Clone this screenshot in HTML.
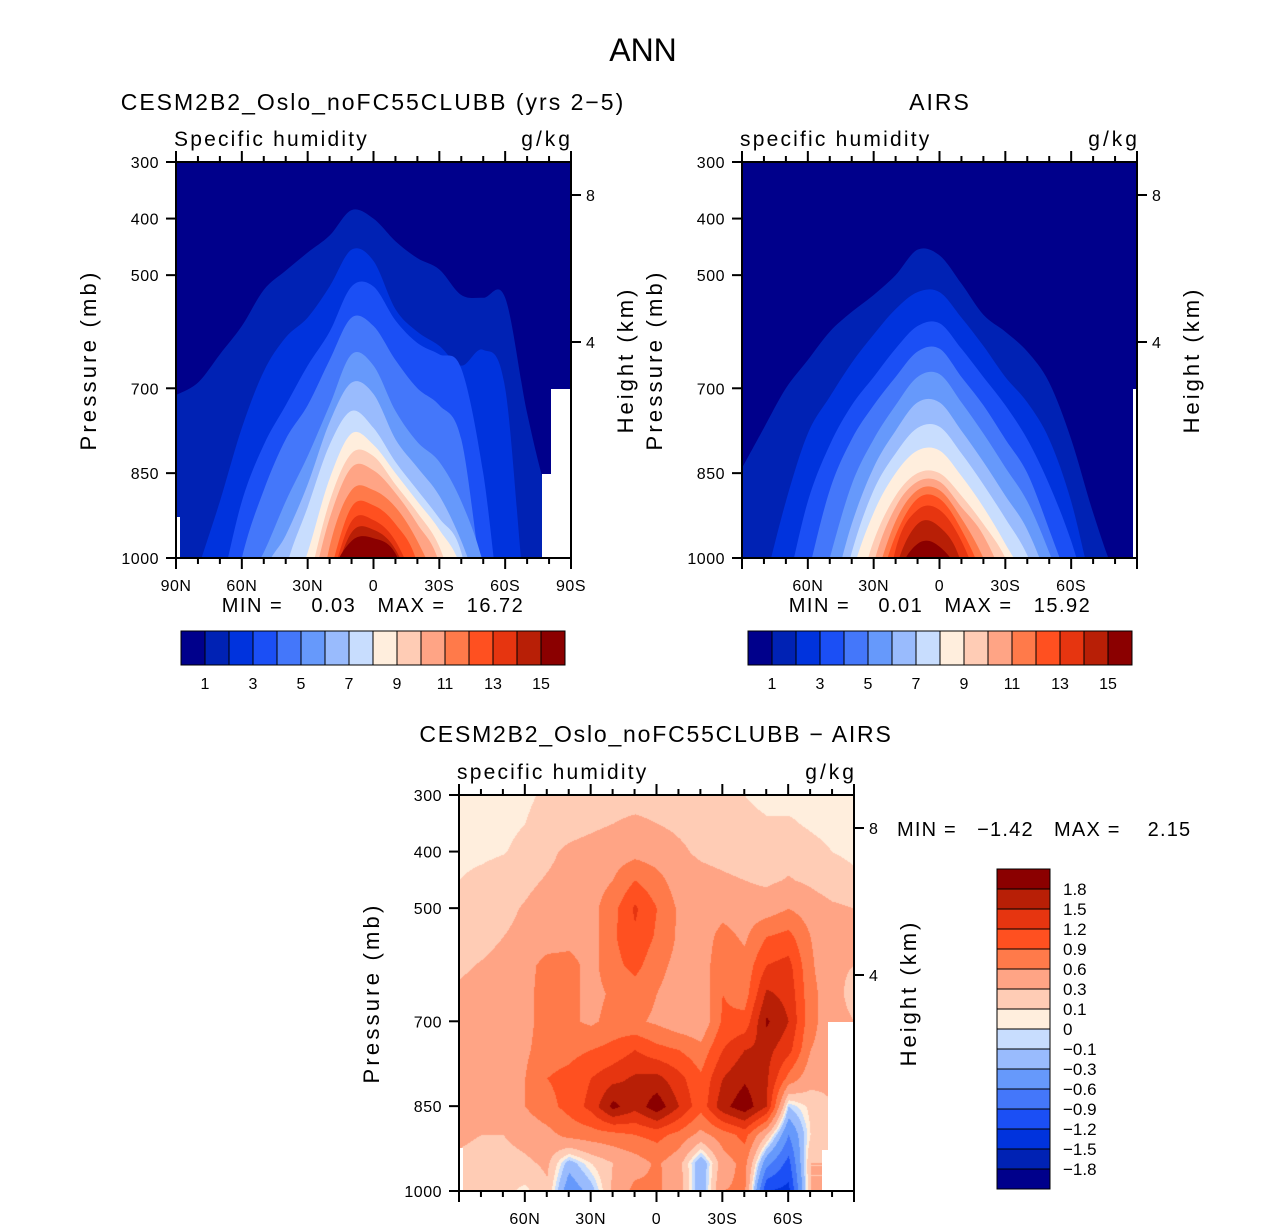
<!DOCTYPE html>
<html><head><meta charset="utf-8">
<style>
html,body{margin:0;padding:0;background:#fff;}
body{width:1285px;height:1230px;position:relative;overflow:hidden;font-family:"Liberation Sans",sans-serif;}
#diffCanvas{position:absolute;left:459px;top:795px;z-index:0;}
#chart{position:absolute;left:0;top:0;z-index:1;}
text{font-family:"Liberation Sans",sans-serif;fill:#000;}
</style></head>
<body>
<canvas id="diffCanvas" width="395" height="396"></canvas>
<svg id="chart" width="1285" height="1230" xmlns="http://www.w3.org/2000/svg">
<defs>
<clipPath id="clip1"><rect x="176" y="162" width="395" height="396"/></clipPath>
<clipPath id="clip2"><rect x="742" y="162" width="395" height="396"/></clipPath>
</defs>
<text x="643" y="61" font-size="32" text-anchor="middle">ANN</text>
<g id="p1"></g>
<g id="p2"></g>
<g id="p3"></g>
</svg>
<script>
// ---------- data ----------
const palette = ["#00008B","#0022B4","#0033DD","#1B4FF5","#4477FA","#6699FB","#99BBFD","#C8DDFE","#FFEEDD","#FFCCB5","#FFA485","#FF7A4A","#FF5020","#E63510","#B81F06","#8B0000"];
const lats = [90,80,70,60,50,40,30,20,10,0,-10,-20,-30,-40,-50,-60,-70,-80,-90];
const qLevels = [1,2,3,4,5,6,7,8,9,10,11,12,13,14,15];
const qLevelLabels = ["1","3","5","7","9","11","13","15"];
const pTicks = [300,400,500,700,850,1000];
const heightTicks = [8,4];
const latTicksTop = ["90N","60N","30N","0","30S","60S","90S"];
const latTickValsTop = [90,60,30,0,-30,-60,-90];
const latTicksInner = ["60N","30N","0","30S","60S"];
const latTickValsInner = [60,30,0,-30,-60];
// isoline pressure (mb) of each humidity level at each latitude, model
const modelL1 = [712,690,640,590,526,492,460,430,385,400,440,470,490,535,540,540,744,900,1000];
const modelL2 = [1150,1020,900,770,670,610,575,520,455,475,560,600,625,660,632,700,1100,1200,1200];
const modelL3 = [1200,1200,1060,900,800,730,660,600,520,520,580,620,640,665,850,1150,1200,1200,1200];
const modelL4 = [1200,1200,1200,1000,880,790,730,650,575,590,650,700,730,790,1050,1200,1200,1200,1200];
const modelL5 = [1200,1200,1200,1060,990,900,820,730,640,660,740,795,830,900,1010,1200,1200,1200,1200];
const modelL6 = [1200,1200,1200,1200,1030,960,870,760,690,710,790,840,890,970,1080,1200,1200,1200,1200];
const modelL7 = [1200,1200,1200,1200,1200,1020,910,800,740,770,830,880,930,990,1200,1200,1200,1200,1200];
const modelL8 = [1200,1200,1200,1200,1200,1100,990,860,780,800,850,900,950,1020,1200,1200,1200,1200,1200];
const modelL9 = [1200,1200,1200,1200,1200,1200,1050,900,815,820,870,920,980,1100,1200,1200,1200,1200,1200];
const modelL10 = [1200,1200,1200,1200,1200,1200,1080,930,840,845,885,940,1010,1200,1200,1200,1200,1200,1200];
const modelL11 = [1200,1200,1200,1200,1200,1200,1200,980,880,880,910,970,1060,1200,1200,1200,1200,1200,1200];
const modelL12 = [1200,1200,1200,1200,1200,1200,1200,1030,910,907,940,1010,1200,1200,1200,1200,1200,1200,1200];
const modelL13 = [1200,1200,1200,1200,1200,1200,1200,1050,935,933,970,1060,1200,1200,1200,1200,1200,1200,1200];
const modelL14 = [1200,1200,1200,1200,1200,1200,1200,1060,955,950,985,1080,1200,1200,1200,1200,1200,1200,1200];
const modelL15 = [1200,1200,1200,1200,1200,1200,1200,1040,970,965,992,1100,1200,1200,1200,1200,1200,1200,1200];
// AIRS
const airsL1 = [841,770,700,650,600,565,535,500,455,465,515,570,600,635,690,790,920,1030,1100];
const airsL2 = [1200,1050,900,780,715,655,605,560,530,530,575,625,680,725,790,900,1060,1200,1200];
const airsL3 = [1200,1200,1060,900,800,730,680,630,590,585,630,680,730,790,870,970,1100,1200,1200];
const airsL4 = [1200,1200,1200,1030,880,790,730,680,635,630,680,730,790,850,950,1060,1200,1200,1200];
const airsL5 = [1200,1200,1200,1150,1000,870,790,730,680,675,725,780,840,900,990,1100,1200,1200,1200];
const airsL6 = [1200,1200,1200,1200,1080,940,840,775,725,725,775,830,890,950,1050,1200,1200,1200,1200];
const airsL7 = [1200,1200,1200,1200,1150,990,880,815,770,768,815,870,930,995,1100,1200,1200,1200,1200];
const airsL8 = [1200,1200,1200,1200,1200,1030,920,850,810,810,855,910,975,1050,1200,1200,1200,1200,1200];
const airsL9 = [1200,1200,1200,1200,1200,1100,970,890,850,850,890,940,1000,1100,1200,1200,1200,1200,1200];
const airsL10 = [1200,1200,1200,1200,1200,1200,1010,910,865,865,910,960,1050,1200,1200,1200,1200,1200,1200];
const airsL11 = [1200,1200,1200,1200,1200,1200,1050,935,880,880,930,1000,1100,1200,1200,1200,1200,1200,1200];
const airsL12 = [1200,1200,1200,1200,1200,1200,1080,960,895,895,950,1040,1200,1200,1200,1200,1200,1200,1200];
const airsL13 = [1200,1200,1200,1200,1200,1200,1200,985,915,915,970,1070,1200,1200,1200,1200,1200,1200,1200];
const airsL14 = [1200,1200,1200,1200,1200,1200,1200,1020,940,945,1010,1200,1200,1200,1200,1200,1200,1200,1200];
const airsL15 = [1200,1200,1200,1200,1200,1200,1200,1040,975,980,1040,1200,1200,1200,1200,1200,1200,1200,1200];
// difference field (g/kg): rows = pressure, cols = lats
const diffPressures = [300,350,400,450,500,550,600,650,700,750,800,850,900,950,1000];
const diffRow300 = [0.05,0.05,0.05,0.08,0.12,0.2,0.2,0.2,0.2,0.2,0.2,0.2,0.2,0.1,0.05,0.05,0.05,0.05,0.05];
const diffRow350 = [0.05,0.05,0.06,0.1,0.15,0.2,0.25,0.3,0.35,0.3,0.25,0.2,0.15,0.15,0.12,0.12,0.08,0.05,0.05];
const diffRow400 = [0.05,0.06,0.09,0.15,0.25,0.35,0.4,0.45,0.5,0.45,0.35,0.25,0.2,0.15,0.15,0.2,0.15,0.1,0.08];
const diffRow450 = [0.1,0.15,0.2,0.25,0.32,0.38,0.45,0.6,0.9,0.7,0.45,0.4,0.35,0.3,0.25,0.32,0.25,0.15,0.12];
const diffRow500 = [0.15,0.2,0.25,0.32,0.4,0.45,0.5,0.8,1.25,0.9,0.55,0.45,0.5,0.45,0.45,0.6,0.45,0.35,0.3];
const diffRow550 = [0.15,0.2,0.3,0.35,0.45,0.5,0.45,0.85,1.15,0.85,0.55,0.45,0.7,0.55,0.9,1.0,0.6,0.4,0.3];
const diffRow600 = [0.25,0.32,0.4,0.5,0.7,0.7,0.5,0.8,1.0,0.7,0.5,0.45,0.8,0.7,1.2,1.3,0.65,0.35,0.3];
const diffRow650 = [0.35,0.4,0.45,0.5,0.75,0.7,0.5,0.65,0.75,0.6,0.45,0.4,0.9,0.75,1.55,1.4,0.7,0.4,0.2];
const diffRow700 = [0.4,0.45,0.5,0.5,0.75,0.65,0.55,0.7,0.65,0.55,0.4,0.35,0.95,1.0,1.85,1.5,0.7,0.4,0.3];
const diffRow750 = [0.4,0.45,0.5,0.55,0.75,0.8,0.9,1.0,1.2,1.0,0.9,0.7,1.2,1.5,1.6,1.3,0.6,0.45,0.4];
const diffRow800 = [0.4,0.45,0.5,0.6,0.9,1.0,1.2,1.4,1.55,1.6,1.3,0.95,1.5,1.75,1.55,0.8,0.4,0.35,0.3];
const diffRow850 = [0.4,0.45,0.5,0.6,0.8,1.0,1.3,1.9,1.6,2.0,1.5,1.0,1.7,2.0,1.5,-0.1,0.15,0.3,0.3];
const diffRow900 = [0.35,0.3,0.3,0.4,0.5,0.7,0.75,0.8,0.9,1.0,0.8,0.5,0.75,1.0,0.3,-0.6,0.1,0.3,0.3];
const diffRow950 = [0.25,0.2,0.2,0.25,0.35,-0.2,0.1,0.3,0.45,0.65,0.4,-0.3,0.45,0.7,-0.5,-1.0,0.3,0.3,0.3];
const diffRow1000 = [0.25,0.2,0.15,0.05,0.25,-0.5,-0.2,0.35,0.7,0.65,0.45,-0.3,0.6,0.65,-1.2,-1.3,0.3,0.3,0.3];
const diffLevels = [-1.8,-1.5,-1.2,-0.9,-0.6,-0.3,-0.1,0,0.1,0.3,0.6,0.9,1.2,1.5,1.8];
const diffLevelLabels = ["\u22121.8","\u22121.5","\u22121.2","\u22120.9","\u22120.6","\u22120.3","\u22120.1","0","0.1","0.3","0.6","0.9","1.2","1.5","1.8"];

const modelProfiles = [modelL1,modelL2,modelL3,modelL4,modelL5,modelL6,modelL7,modelL8,modelL9,modelL10,modelL11,modelL12,modelL13,modelL14,modelL15];
const airsProfiles = [airsL1,airsL2,airsL3,airsL4,airsL5,airsL6,airsL7,airsL8,airsL9,airsL10,airsL11,airsL12,airsL13,airsL14,airsL15];
const diffRows = [diffRow300,diffRow350,diffRow400,diffRow450,diffRow500,diffRow550,diffRow600,diffRow650,diffRow700,diffRow750,diffRow800,diffRow850,diffRow900,diffRow950,diffRow1000];

// ---------- helpers ----------
const NS = "http://www.w3.org/2000/svg";
function mk(tag, attrs, parent){const e=document.createElementNS(NS,tag);for(const k in attrs)e.setAttribute(k,attrs[k]);parent.appendChild(e);return e;}
function txt(parent, x, y, s, size, anchor){const t=mk("text",{x:x,y:y,"font-size":size,"text-anchor":anchor||"middle"},parent);t.textContent=s;return t;}
const PW=395, PH=396;
function xS(x0,lat){return x0+(90-lat)/180*PW;}
function yS(y0,p){return y0+(p-300)/700*PH;}
function smoothPath(pts){
  let d="M"+pts[0][0]+","+pts[0][1];
  for(let i=0;i<pts.length-1;i++){
    const p0=pts[Math.max(0,i-1)],p1=pts[i],p2=pts[i+1],p3=pts[Math.min(pts.length-1,i+2)];
    const c1x=p1[0]+(p2[0]-p0[0])/6,c1y=p1[1]+(p2[1]-p0[1])/6;
    const c2x=p2[0]-(p3[0]-p1[0])/6,c2y=p2[1]-(p3[1]-p1[1])/6;
    d+=" C"+c1x+","+c1y+" "+c2x+","+c2y+" "+p2[0]+","+p2[1];
  }
  return d;
}
function axes(g,x0,y0,labels,labelVals){
  const frame=mk("rect",{x:x0,y:y0,width:PW,height:PH,fill:"none",stroke:"#000","stroke-width":2},g);
  
  
  for(let lat=90;lat>=-90;lat-=10){
    const x=xS(x0,lat);const major=(lat%30===0);const L=major?11:6;
    mk("line",{x1:x,y1:y0+PH,x2:x,y2:y0+PH+L,stroke:"#000","stroke-width":2},g);
    mk("line",{x1:x,y1:y0,x2:x,y2:y0-L,stroke:"#000","stroke-width":2},g);
  }
  labels.forEach((s,i)=>{const t=txt(g,xS(x0,labelVals[i]),y0+PH+33,s,16);t.setAttribute("letter-spacing","0.5");
    
    });
  pTicks.forEach(p=>{const y=yS(y0,p);
    mk("line",{x1:x0-10,y1:y,x2:x0,y2:y,stroke:"#000","stroke-width":2},g);
    const t=txt(g,x0-17,y+6,String(p),16,"end");t.setAttribute("letter-spacing","0.5");
    
    });
  const hy={8:33,4:180};
  heightTicks.forEach(h=>{const y=y0+hy[h];
    mk("line",{x1:x0+PW,y1:y,x2:x0+PW+10,y2:y,stroke:"#000","stroke-width":2},g);
    const t=txt(g,x0+PW+15,y+6,String(h),16,"start");
    
    });
  const yt=txt(g,0,0,"Pressure (mb)",22);yt.setAttribute("transform","translate("+(x0-80)+","+(y0+198)+") rotate(-90)");yt.setAttribute("letter-spacing","3.2");
  
  
  const ht=txt(g,0,0,"Height (km)",22);ht.setAttribute("transform","translate("+(x0+PW+62)+","+(y0+198)+") rotate(-90)");ht.setAttribute("letter-spacing","3");
  
  
}
function contourPanel(g,x0,y0,profiles,clip){
  const cg=mk("g",{"clip-path":"url(#"+clip+")"},g);
  const bg=mk("rect",{x:x0,y:y0,width:PW,height:PH,fill:palette[0]},cg);
  
  
  profiles.forEach((prof,k)=>{
    const pts=prof.map((p,i)=>[xS(x0,lats[i]),yS(y0,p)]);
    let d=smoothPath(pts)+" L"+(x0+PW)+","+(y0+PH+200)+" L"+x0+","+(y0+PH+200)+" Z";
    const path=mk("path",{d:d,fill:palette[k+1]},cg);
    
    
  });
}
function hColorbar(g,x0,y0){
  for(let k=0;k<16;k++){
    const r=mk("rect",{x:x0+k*24,y:y0,width:24,height:34,fill:palette[k],stroke:"#000","stroke-width":1},g);
    
    
  }
  qLevelLabels.forEach((s,i)=>{const lv=Number(s);const t=txt(g,x0+lv*24,y0+58,s,16);
    
    });
}
function whiteRect(g,x,y,w,h){const r=mk("rect",{x:x,y:y,width:w,height:h,fill:"#fff"},g);
  
  }

// ---------- panel 1 ----------
const g1=document.getElementById("p1");
contourPanel(g1,176,162,modelProfiles,"clip1");
whiteRect(g1,551,389,20,169);whiteRect(g1,542,474,10,84);whiteRect(g1,177,517,3,41);
axes(g1,176,162,latTicksTop,latTickValsTop);
let t;
t=txt(g1,373,110,"CESM2B2_Oslo_noFC55CLUBB (yrs 2\u22125)",23);t.setAttribute("letter-spacing","2");

t=txt(g1,174,146,"Specific humidity",21,"start");t.setAttribute("letter-spacing","2.2");

t=txt(g1,573,146,"g/kg",21,"end");t.setAttribute("letter-spacing","3");

t=txt(g1,373,612,"MIN =    0.03   MAX =   16.72",20);t.setAttribute("letter-spacing","1.5");t.style.whiteSpace="pre";

hColorbar(g1,181,631);

// ---------- panel 2 ----------
const g2=document.getElementById("p2");
contourPanel(g2,742,162,airsProfiles,"clip2");
whiteRect(g2,1133,389,4,169);
axes(g2,742,162,latTicksInner,latTickValsInner);
t=txt(g2,940,110,"AIRS",23);t.setAttribute("letter-spacing","2");

t=txt(g2,740,146,"specific humidity",21,"start");t.setAttribute("letter-spacing","2.2");

t=txt(g2,1140,146,"g/kg",21,"end");t.setAttribute("letter-spacing","3");

t=txt(g2,940,612,"MIN =    0.01   MAX =   15.92",20);t.setAttribute("letter-spacing","1.5");t.style.whiteSpace="pre";

hColorbar(g2,748,631);

// ---------- panel 3 (difference) ----------
const cv=document.getElementById("diffCanvas");const ctx=cv.getContext("2d");
const img=ctx.createImageData(PW,PH);
function hex(c){return [parseInt(c.slice(1,3),16),parseInt(c.slice(3,5),16),parseInt(c.slice(5,7),16)];}
const rgb=palette.map(hex);
for(let py=0;py<PH;py++){
  const p=300+py/PH*700;
  let r=Math.min(diffPressures.length-2,Math.floor((p-300)/50));const fy=(p-diffPressures[r])/50;
  for(let pxl=0;pxl<PW;pxl++){
    const lat=90-pxl/PW*180;
    let c=Math.min(lats.length-2,Math.floor((90-lat)/10));const fx=((90-lat)-c*10)/10;
    const v=(1-fy)*((1-fx)*diffRows[r][c]+fx*diffRows[r][c+1])+fy*((1-fx)*diffRows[r+1][c]+fx*diffRows[r+1][c+1]);
    let bin=0;while(bin<diffLevels.length&&v>=diffLevels[bin])bin++;
    const col=rgb[bin];const o=(py*PW+pxl)*4;
    img.data[o]=col[0];img.data[o+1]=col[1];img.data[o+2]=col[2];img.data[o+3]=255;
  }
}
ctx.putImageData(img,0,0);
const g3=document.getElementById("p3");
whiteRect(g3,828,1022,26,169);whiteRect(g3,822,1150,7,41);whiteRect(g3,460,1148,3,43);
axes(g3,459,795,latTicksInner,latTickValsInner);
t=txt(g3,656,742,"CESM2B2_Oslo_noFC55CLUBB \u2212 AIRS",23);t.setAttribute("letter-spacing","1.8");

t=txt(g3,457,779,"specific humidity",21,"start");t.setAttribute("letter-spacing","2.2");

t=txt(g3,857,779,"g/kg",21,"end");t.setAttribute("letter-spacing","3");

t=txt(g3,897,836,"MIN =   \u22121.42   MAX =    2.15",20,"start");t.setAttribute("letter-spacing","1.2");t.style.whiteSpace="pre";

for(let k=0;k<16;k++){
  const r=mk("rect",{x:997,y:869+k*20,width:53,height:20,fill:palette[15-k],stroke:"#000","stroke-width":1},g3);
  
  
}
diffLevelLabels.slice().reverse().forEach((s,i)=>{const tt=txt(g3,1063,869+(i+1)*20+6,s,17,"start");
  
  });
</script>
</body></html>
